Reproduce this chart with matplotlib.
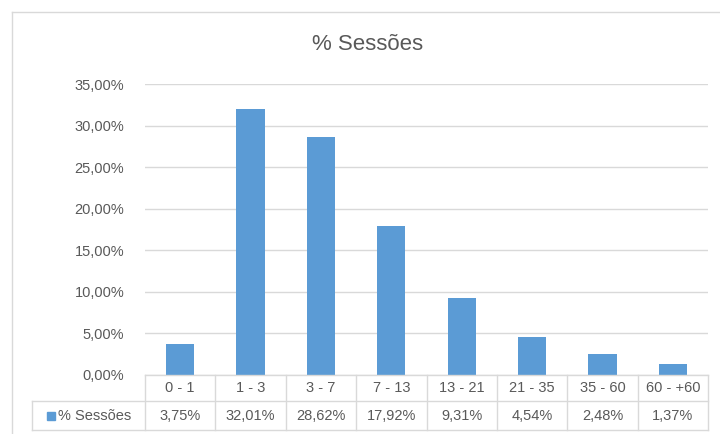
import matplotlib
matplotlib.use("Agg")
import matplotlib.pyplot as plt
from matplotlib.lines import Line2D
from matplotlib.patches import Rectangle

categories = ["0 - 1", "1 - 3", "3 - 7", "7 - 13", "13 - 21", "21 - 35", "35 - 60", "60 - +60"]
values = [3.75, 32.01, 28.62, 17.92, 9.31, 4.54, 2.48, 1.37]
value_labels = ["3,75%", "32,01%", "28,62%", "17,92%", "9,31%", "4,54%", "2,48%", "1,37%"]
yticks = [0, 5, 10, 15, 20, 25, 30, 35]
series_name = "% Sessões"
title = "% Sessões"

plt.rcParams["font.family"] = ["Liberation Sans Narrow", "Liberation Sans", "DejaVu Sans"]

W, H = 720, 434
fig = plt.figure(figsize=(W / 100, H / 100), dpi=100)
fig.patch.set_facecolor("white")

BAR = "#5B9BD5"
GRID = "#D9D9D9"
TXT = "#595959"

def fx(px):
    return px / W

def fy(py):
    return 1 - py / H

# chart frame
fig.add_artist(Line2D([fx(12), fx(12)], [fy(12), fy(434)], color=GRID, lw=1, transform=fig.transFigure))
fig.add_artist(Line2D([fx(12), fx(720)], [fy(12), fy(12)], color=GRID, lw=1, transform=fig.transFigure))

# plot area
x0, x1 = 145, 708
y_top, y_bot = 84, 375
ax = fig.add_axes([fx(x0), fy(y_bot), fx(x1 - x0), (y_bot - y_top) / H])
n = len(categories)
ax.bar(range(n), values, width=0.4, color=BAR, zorder=3)
ax.set_xlim(-0.5, n - 0.5)
ax.set_ylim(0, 35)
ax.set_yticks(yticks)
ax.set_yticklabels([f"{t},00%" for t in yticks], color=TXT, fontsize=10.5)
ax.tick_params(axis="y", length=0, pad=15)
ax.set_xticks([])
for s in ax.spines.values():
    s.set_visible(False)
ax.grid(axis="y", color=GRID, lw=1, zorder=0)
ax.set_facecolor("none")

fig.text(fx(368), fy(45), title, ha="center", va="center", fontsize=16, color=TXT)

# data table below the axis
row1_top, row1_bot, row2_bot = 375, 401, 430
lab_left = 32
cw = (x1 - x0) / n
tkw = dict(color=GRID, lw=1, transform=fig.transFigure)
fig.add_artist(Line2D([fx(x0), fx(x1)], [fy(row1_top)] * 2, **tkw))
fig.add_artist(Line2D([fx(lab_left), fx(x1)], [fy(row1_bot)] * 2, **tkw))
fig.add_artist(Line2D([fx(lab_left), fx(x1)], [fy(row2_bot)] * 2, **tkw))
fig.add_artist(Line2D([fx(lab_left)] * 2, [fy(row1_bot), fy(row2_bot)], **tkw))
for i in range(n + 1):
    xx = x0 + i * cw
    fig.add_artist(Line2D([fx(xx)] * 2, [fy(row1_top), fy(row2_bot)], **tkw))
for i, (c, v) in enumerate(zip(categories, value_labels)):
    cx = x0 + (i + 0.5) * cw
    fig.text(fx(cx), fy((row1_top + row1_bot) / 2), c, ha="center", va="center", fontsize=10.5, color=TXT)
    fig.text(fx(cx), fy((row1_bot + row2_bot) / 2), v, ha="center", va="center", fontsize=10.5, color=TXT)

fig.add_artist(Rectangle((fx(47), fy(420)), fx(8), 8 / H, color=BAR, transform=fig.transFigure))
fig.text(fx(58), fy((row1_bot + row2_bot) / 2), series_name, ha="left", va="center", fontsize=10.5, color=TXT)

fig.savefig("out.png", dpi=100)
